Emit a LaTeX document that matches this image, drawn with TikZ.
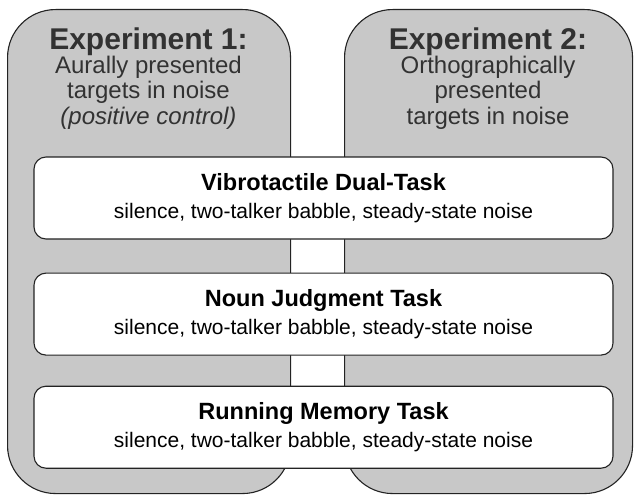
\documentclass[tikz,border=0pt]{standalone}
\usepackage{fontspec}
\setmainfont{Liberation Sans}
\usetikzlibrary{positioning}
\definecolor{expgris}{RGB}{200,200,200}
\definecolor{borde}{RGB}{35,35,35}
\definecolor{textogris}{RGB}{50,50,50}

\begin{document}
\begin{tikzpicture}[
        x=1pt, y=-1pt,
        node distance=32pt,
        experimento/.style={draw=borde, line width=1.1pt, fill=expgris, rounded corners=48pt, minimum height=484pt, anchor=north west, inner sep=0pt},
        titulo/.style={text=textogris, font=\bfseries\fontsize{30}{32}\selectfont, inner sep=0pt},
        subtitulo/.style={text=textogris, align=center, font=\fontsize{24}{25.5}\selectfont, inner sep=0pt},
        tarea/.style={draw=borde, line width=1.1pt, fill=white, rounded corners=12pt, align=center, minimum width=579pt, minimum height=82pt, inner sep=0pt, font=\fontsize{21}{28}\selectfont}
    ]
        \useasboundingbox (0,0) rectangle (634,495);

        \node[experimento, minimum width=283pt] (exp1) at (7,9) {};
        \node[experimento, minimum width=288pt] (exp2) at (344,9) {};

        \node[titulo, anchor=base] (tit1) at (148.5,49) {Experiment 1:};
        \node[subtitulo, below=0pt of tit1] (sub1) {Aurally presented\\targets in noise\\\textit{(positive control)}};
        \node[titulo, anchor=base] (tit2) at (488,49) {Experiment 2:};
        \node[subtitulo, below=0pt of tit2] (sub2) {Orthographically\\presented\\targets in noise};

        \node[tarea] (vib) at (323.5,198) {{\bfseries\fontsize{23.5}{28}\selectfont Vibrotactile Dual-Task}\\silence, two-talker babble, steady-state noise};
        \node[tarea, below=33pt of vib] (noun) {{\bfseries\fontsize{23.5}{28}\selectfont Noun Judgment Task}\\silence, two-talker babble, steady-state noise};
        \node[tarea, below=30pt of noun] (mem) {{\bfseries\fontsize{23.5}{28}\selectfont Running Memory Task}\\silence, two-talker babble, steady-state noise};
    \end{tikzpicture}
\end{document}
